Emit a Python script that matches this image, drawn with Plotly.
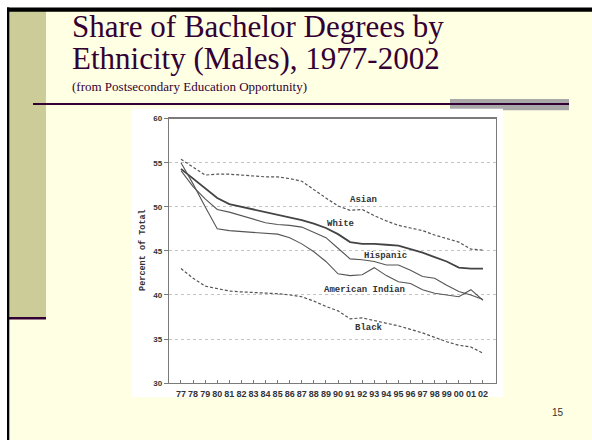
import plotly.graph_objects as go

# ---------------- data ----------------
year_labels = ["77", "78", "79", "80", "81", "82", "83", "84", "85", "86", "87", "88", "89",
               "90", "91", "92", "93", "94", "95", "96", "97", "98", "99", "00", "01", "02"]
asian = [55.4, 54.5, 53.6, 53.7, 53.7, 53.6, 53.5, 53.4, 53.4, 53.2, 52.9, 51.9, 51.0,
         50.1, 49.6, 49.7, 49.0, 48.4, 47.9, 47.6, 47.3, 46.8, 46.4, 46.0, 45.2, 45.1]
white = [54.3, 53.2, 52.0, 51.0, 50.3, 50.0, 49.7, 49.4, 49.1, 48.8, 48.5, 48.1, 47.6,
         46.9, 46.0, 45.8, 45.8, 45.7, 45.6, 45.2, 44.8, 44.3, 43.8, 43.1, 43.0, 43.0]
hispanic = [54.1, 52.3, 50.9, 49.7, 49.4, 49.0, 48.6, 48.2, 48.0, 47.9, 47.7, 47.1, 46.5,
            45.3, 44.1, 44.0, 43.8, 43.4, 43.4, 42.8, 42.1, 41.9, 41.1, 40.4, 40.0, 39.5]
american_indian = [55.0, 52.6, 50.0, 47.5, 47.3, 47.2, 47.1, 47.0, 46.9, 46.5, 45.8, 44.9, 43.8,
                   42.4, 42.2, 42.3, 43.1, 42.2, 41.5, 41.3, 40.6, 40.2, 40.0, 39.8, 40.6, 39.4]
black = [43.0, 41.9, 41.0, 40.7, 40.45, 40.35, 40.3, 40.2, 40.15, 40.0, 39.8, 39.3, 38.7,
         38.2, 37.3, 37.4, 37.1, 36.8, 36.5, 36.1, 35.7, 35.2, 34.7, 34.3, 34.1, 33.4]
y_ticks = [30, 35, 40, 45, 50, 55, 60]

series_names = ["Asian", "White", "Hispanic", "American Indian", "Black"]
title_line1 = "Share of Bachelor Degrees by"
title_line2 = "Ethnicity (Males), 1977-2002"
subtitle = "(from Postsecondary Education Opportunity)"
page_number = "15"

W, H = 592, 445
x_idx = list(range(len(year_labels)))


def px(x):
    return x / W


def py(y):
    return 1 - y / H


fig = go.Figure()

line_col = "#555555"
fig.add_trace(go.Scatter(x=x_idx, y=asian, mode="lines", name=series_names[0],
                         line=dict(color=line_col, width=1.2, dash="3px,2px")))
fig.add_trace(go.Scatter(x=x_idx, y=white, mode="lines", name=series_names[1],
                         line=dict(color="#444444", width=1.8)))
fig.add_trace(go.Scatter(x=x_idx, y=hispanic, mode="lines", name=series_names[2],
                         line=dict(color=line_col, width=1.1)))
fig.add_trace(go.Scatter(x=x_idx, y=american_indian, mode="lines", name=series_names[3],
                         line=dict(color=line_col, width=1.1)))
fig.add_trace(go.Scatter(x=x_idx, y=black, mode="lines", name=series_names[4],
                         line=dict(color=line_col, width=1.2, dash="3px,2px")))

shapes = []
# slide background
shapes.append(dict(type="rect", xref="paper", yref="paper", x0=px(9), x1=px(592), y0=py(445), y1=py(6),
                   fillcolor="#FFFFE4", line=dict(width=0), layer="below"))
# left khaki sidebar
shapes.append(dict(type="rect", xref="paper", yref="paper", x0=px(9), x1=px(46), y0=py(320), y1=py(6),
                   fillcolor="#CCCC99", line=dict(width=0), layer="below"))
# purple line under sidebar
shapes.append(dict(type="rect", xref="paper", yref="paper", x0=px(9), x1=px(46), y0=py(322), y1=py(319.5),
                   fillcolor="#330033", line=dict(width=0), layer="below"))
# black top and left borders
shapes.append(dict(type="rect", xref="paper", yref="paper", x0=px(7), x1=px(592), y0=py(8), y1=py(3.5),
                   fillcolor="#000000", line=dict(width=0), layer="below"))
shapes.append(dict(type="rect", xref="paper", yref="paper", x0=px(7), x1=px(9.3), y0=py(445), y1=py(3.5),
                   fillcolor="#000000", line=dict(width=0), layer="below"))
# grey bar at right of title rule
shapes.append(dict(type="rect", xref="paper", yref="paper", x0=px(450), x1=px(569), y0=py(108.5), y1=py(97),
                   fillcolor="#A8A8A8", line=dict(width=0), layer="below"))
# title rule
shapes.append(dict(type="rect", xref="paper", yref="paper", x0=px(33), x1=px(569), y0=py(103), y1=py(101),
                   fillcolor="#330033", line=dict(width=0), layer="below"))
# white chart picture
shapes.append(dict(type="rect", xref="paper", yref="paper", x0=px(132), x1=px(503), y0=py(401), y1=py(107),
                   fillcolor="#FFFFFF", line=dict(width=0), layer="below"))
fig.update_layout(shapes=shapes)

annotations = []
title_font = dict(family="Liberation Serif, Times New Roman, serif", size=31, color="#330033")
annotations.append(dict(text=title_line1, xref="paper", yref="paper", x=px(70), y=py(23),
                        xanchor="left", yanchor="middle", showarrow=False, font=title_font))
annotations.append(dict(text=title_line2, xref="paper", yref="paper", x=px(70), y=py(56),
                        xanchor="left", yanchor="middle", showarrow=False, font=title_font))
annotations.append(dict(text=subtitle, xref="paper", yref="paper", x=px(70), y=py(84),
                        xanchor="left", yanchor="middle", showarrow=False,
                        font=dict(family="Liberation Serif, Times New Roman, serif", size=13, color="#330033")))
annotations.append(dict(text=page_number, xref="paper", yref="paper", x=px(558), y=py(417),
                        xanchor="center", yanchor="middle", showarrow=False,
                        font=dict(family="Liberation Sans, Arial, sans-serif", size=10, color="#333333")))
annotations.append(dict(text="Percent of Total", xref="paper", yref="paper", x=px(143), y=py(251),
                        xanchor="center", yanchor="middle", textangle=-90, showarrow=False,
                        font=dict(family="Liberation Mono, Courier New, monospace", size=8.5,
                                  color="#333333", weight="bold")))

label_font = dict(family="Liberation Mono, Courier New, monospace", size=9, color="#333333", weight="bold")
label_pos = {"Asian": (15.15, 50.8), "White": (13.2, 48.0), "Hispanic": (16.9, 44.4),
             "American Indian": (15.2, 40.6), "Black": (15.6, 36.3)}
for name in series_names:
    lx, ly = label_pos[name]
    annotations.append(dict(text=name, xref="x", yref="y", x=lx, y=ly, xanchor="center",
                            yanchor="middle", showarrow=False, font=label_font))
fig.update_layout(annotations=annotations)

ytick_font = dict(family="Liberation Sans, Arial, sans-serif", size=8, color="#333333", weight="bold")
xtick_font = dict(family="Liberation Sans, Arial, sans-serif", size=9, color="#333333", weight="bold")
fig.update_layout(
    width=W, height=H, autosize=False,
    margin=dict(l=0, r=0, t=0, b=0, pad=0),
    paper_bgcolor="#FFFFFF",
    plot_bgcolor="rgba(0,0,0,0)",
    showlegend=False,
    xaxis=dict(domain=[px(169), px(496)], range=[-0.993, 26.08], tickmode="array",
               tickvals=x_idx, ticktext=year_labels, showgrid=False, zeroline=False,
               showline=True, mirror=True, linecolor="#7a7a7a", linewidth=1.2,
               ticks="inside", ticklen=3, tickcolor="#7a7a7a", tickfont=xtick_font,
               ticklabelstandoff=2),
    yaxis=dict(domain=[py(387), py(117)], range=[30, 60], tickmode="array", tickvals=y_ticks,
               showgrid=True, gridcolor="#c4c4c4", griddash="dot", gridwidth=1, zeroline=False,
               showline=True, mirror=True, linecolor="#7a7a7a", linewidth=1.2,
               ticks="outside", ticklen=4, tickcolor="#7a7a7a", tickfont=ytick_font),
)

fig.write_html("out.html",
               config={"displayModeBar": False, "staticPlot": True},
               post_script="document.body.style.margin='0';document.body.style.padding='0';"
                           "document.body.style.overflow='hidden';")
